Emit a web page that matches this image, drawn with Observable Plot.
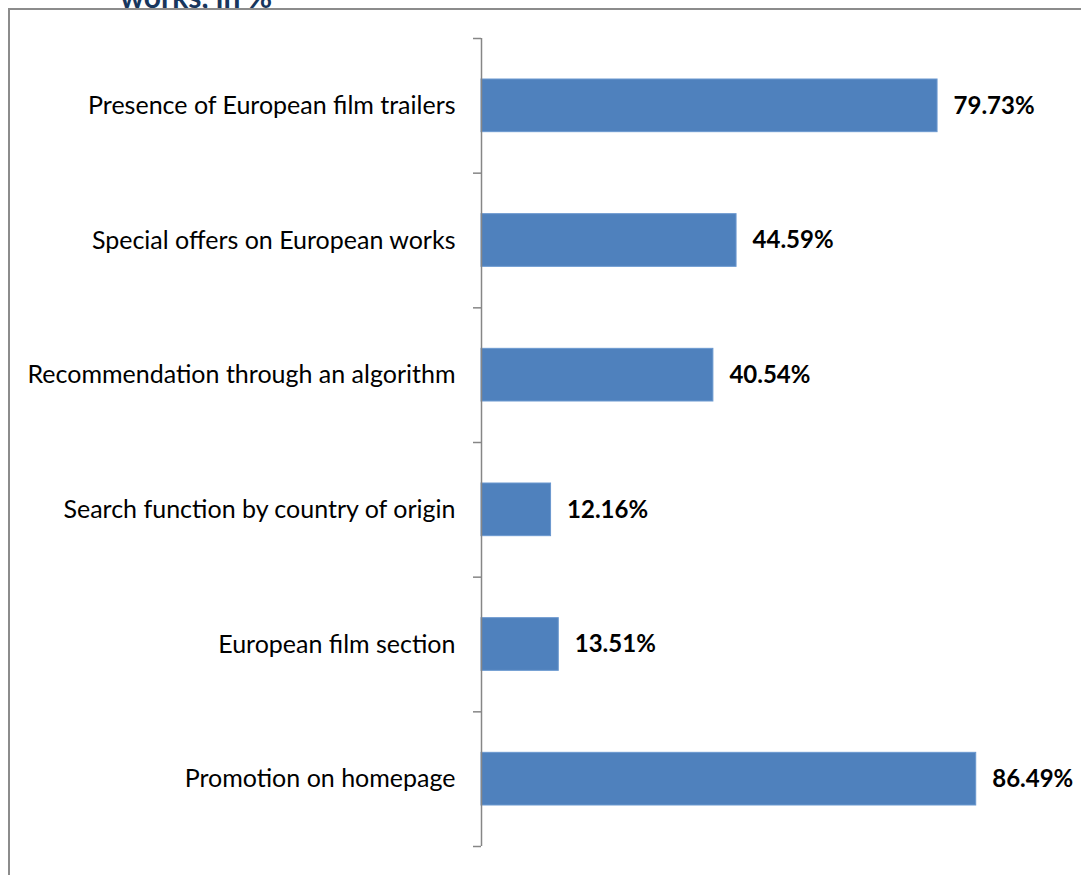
<!DOCTYPE html>
<html>
<head>
<meta charset="utf-8">
<script src="https://cdn.jsdelivr.net/npm/d3@7"></script>
<script src="https://cdn.jsdelivr.net/npm/@observablehq/plot@0.6"></script>
<style>
  html, body { margin: 0; padding: 0; background: #fff; overflow: hidden; }
  #wrap { position: relative; width: 1081px; height: 875px; overflow: hidden; }
  #title { position: absolute; left: 120px; top: -22px; font: bold 30px Lato, "Open Sans", sans-serif; color: #17365D; white-space: nowrap; }
  #frame { position: absolute; left: 8px; top: 8px; width: 1200px; height: 1000px; border-left: 2px solid #8c8c8c; border-top: 2px solid #8c8c8c; box-sizing: border-box; background: #fff; }
  #chart { position: absolute; left: 0; top: 0; }
</style>
</head>
<body>
<div id="wrap">
  <div id="title">works, in %</div>
  <div id="frame"></div>
  <div id="chart"></div>
</div>
<script>
const categories = [
  "Presence of European film trailers",
  "Special offers on European works",
  "Recommendation through an algorithm",
  "Search function by country of origin",
  "European film section",
  "Promotion on homepage"
];
const values = [79.73, 44.59, 40.54, 12.16, 13.51, 86.49];
const valueLabels = ["79.73%", "44.59%", "40.54%", "12.16%", "13.51%", "86.49%"];

const data = categories.map((c, i) => ({cat: c, i, v: values[i], lab: valueLabels[i]}));
const boundaries = d3.range(categories.length + 1);

const chart = Plot.plot({
  width: 1081,
  height: 875,
  marginLeft: 481,
  marginRight: 28,
  marginTop: 38,
  marginBottom: 29,
  style: {fontFamily: "Lato, 'Open Sans', sans-serif", background: "transparent"},
  x: {type: "linear", domain: [0, 100], axis: null},
  y: {type: "linear", domain: [0, categories.length], reverse: true, axis: null},
  marks: [
    Plot.rectX(data, {x1: 0, x2: "v", y1: "i", y2: d => d.i + 1, insetTop: 41, insetBottom: 41, fill: "#4F81BD", stroke: "#6a98cf", strokeWidth: 1}),
    Plot.ruleX([0], {stroke: "#868686", strokeWidth: 1.5}),
    Plot.ruleY(boundaries, {y: d => d, x1: 0, x2: 0, insetLeft: -8, stroke: "#868686", strokeWidth: 1.5}),
    Plot.text(data, {x: 0, y: d => d.i + 0.5, text: "cat", textAnchor: "end", dx: -26, fontSize: 25, fill: "#000"}),
    Plot.text(data, {x: "v", y: d => d.i + 0.5, text: "lab", textAnchor: "start", dx: 16, dy: 0, fontSize: 24, fontWeight: "bold", fill: "#000"})
  ]
});
document.getElementById("chart").appendChild(chart);
</script>
</body>
</html>
